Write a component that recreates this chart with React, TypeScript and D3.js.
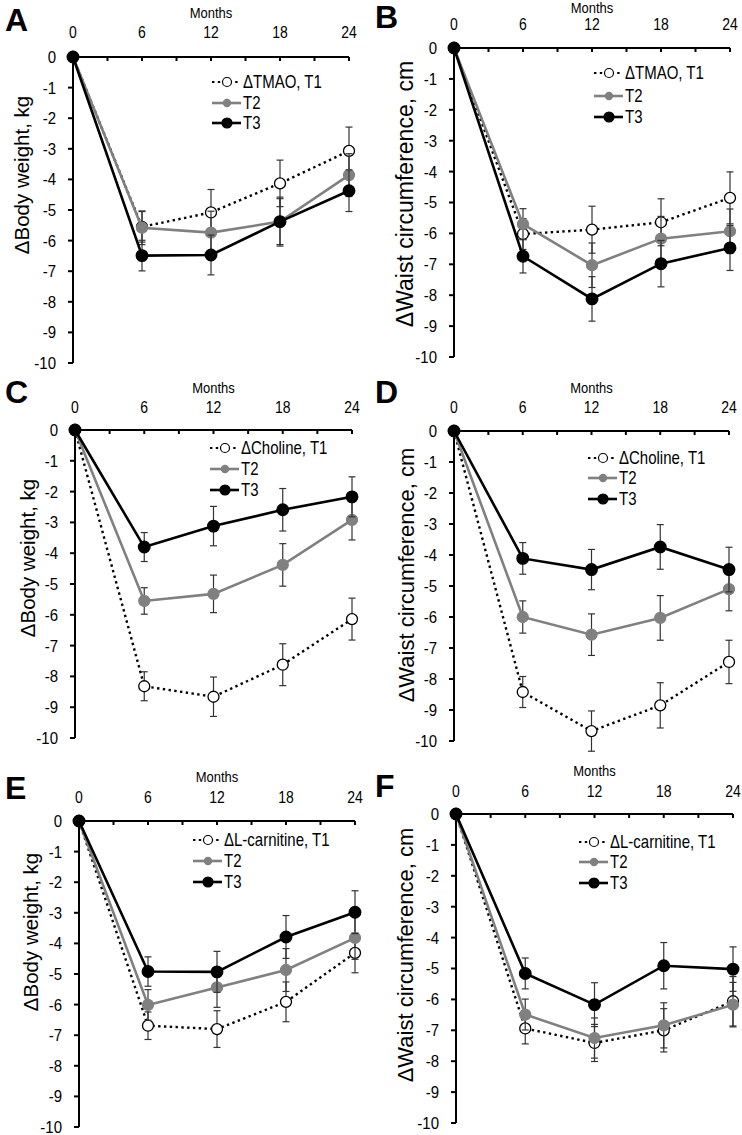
import React from "react";
import * as d3 from "d3";

const months = [0, 6, 12, 18, 24];
const xMinorTicks = [0, 3, 6, 9, 12, 15, 18, 21, 24];
const yTicks = [0, -1, -2, -3, -4, -5, -6, -7, -8, -9, -10];

// Panel A – ΔTMAO, body weight
const A_T1 = [0, -5.55, -5.08, -4.13, -3.07];
const A_T1_err = [0, 0.5, 0.75, 0.76, 0.78];
const A_T2 = [0, -5.58, -5.74, -5.38, -3.86];
const A_T2_err = [0, 0.55, 0.7, 0.75, 0.7];
const A_T3 = [0, -6.49, -6.47, -5.38, -4.37];
const A_T3_err = [0, 0.5, 0.65, 0.8, 0.68];

// Panel B – ΔTMAO, waist
const B_T1 = [0, -6.02, -5.88, -5.64, -4.85];
const B_T1_err = [0, 0.5, 0.76, 0.76, 0.84];
const B_T2 = [0, -5.7, -7.03, -6.17, -5.93];
const B_T2_err = [0, 0.5, 0.72, 0.72, 0.72];
const B_T3 = [0, -6.74, -8.12, -6.98, -6.47];
const B_T3_err = [0, 0.54, 0.72, 0.75, 0.73];

// Panel C – ΔCholine, body weight
const C_T1 = [0, -8.32, -8.66, -7.62, -6.14];
const C_T1_err = [0, 0.47, 0.64, 0.68, 0.68];
const C_T2 = [0, -5.55, -5.32, -4.38, -2.92];
const C_T2_err = [0, 0.43, 0.61, 0.69, 0.65];
const C_T3 = [0, -3.8, -3.12, -2.59, -2.17];
const C_T3_err = [0, 0.47, 0.64, 0.69, 0.65];

// Panel D – ΔCholine, waist
const D_T1 = [0, -8.42, -9.68, -8.85, -7.45];
const D_T1_err = [0, 0.5, 0.65, 0.73, 0.7];
const D_T2 = [0, -6.0, -6.57, -6.03, -5.1];
const D_T2_err = [0, 0.52, 0.67, 0.72, 0.7];
const D_T3 = [0, -4.11, -4.47, -3.74, -4.47];
const D_T3_err = [0, 0.51, 0.65, 0.72, 0.72];

// Panel E – ΔL-carnitine, body weight
const E_T1 = [0, -6.69, -6.8, -5.91, -4.31];
const E_T1_err = [0, 0.45, 0.6, 0.65, 0.65];
const E_T2 = [0, -6.01, -5.44, -4.87, -3.82];
const E_T2_err = [0, 0.5, 0.65, 0.7, 0.7];
const E_T3 = [0, -4.92, -4.93, -3.79, -2.98];
const E_T3_err = [0, 0.48, 0.67, 0.7, 0.7];

// Panel F – ΔL-carnitine, waist
const F_T1 = [0, -6.94, -7.41, -7.0, -6.06];
const F_T1_err = [0, 0.5, 0.6, 0.7, 0.8];
const F_T2 = [0, -6.49, -7.25, -6.84, -6.17];
const F_T2_err = [0, 0.5, 0.65, 0.73, 0.72];
const F_T3 = [0, -5.16, -6.17, -4.91, -5.02];
const F_T3_err = [0, 0.5, 0.71, 0.75, 0.72];

const legendNames = ["ΔTMAO, T1", "ΔCholine, T1", "ΔL-carnitine, T1"];
const seriesNames = ["T1", "T2", "T3"];
const bodyTitle = "ΔBody weight, kg";
const waistTitle = "ΔWaist circumference, cm";

const FONT = "'Liberation Sans', Arial, sans-serif";
const GRAY = "#808080";
const SY = 1.18;

const panels = [
  { letter: "A", lx: 5, ly: 31, x0: 73, x1: 349, y0: 57, y1: 363, monthsY: 18, tickY: 38, title: bodyTitle, tSize: 20.5, tX: 29, tY: 175, legend: legendNames[0], legX: 212, legY: [82, 103, 123], s: [[A_T1, A_T1_err], [A_T2, A_T2_err], [A_T3, A_T3_err]] },
  { letter: "B", lx: 375, ly: 28, x0: 454, x1: 730, y0: 48, y1: 357, monthsY: 12.5, tickY: 30, title: waistTitle, tSize: 23, tX: 413, tY: 194, legend: legendNames[0], legX: 594, legY: [73, 96, 117], s: [[B_T1, B_T1_err], [B_T2, B_T2_err], [B_T3, B_T3_err]] },
  { letter: "C", lx: 5, ly: 403, x0: 75, x1: 352, y0: 430, y1: 738, monthsY: 393, tickY: 413, title: bodyTitle, tSize: 20.5, tX: 35, tY: 558, legend: legendNames[1], legX: 210, legY: [448, 469, 490], s: [[C_T1, C_T1_err], [C_T2, C_T2_err], [C_T3, C_T3_err]] },
  { letter: "D", lx: 375, ly: 403, x0: 454, x1: 729, y0: 431, y1: 741, monthsY: 393, tickY: 413, title: waistTitle, tSize: 22, tX: 414, tY: 575, legend: legendNames[1], legX: 588, legY: [458, 478, 499], s: [[D_T1, D_T1_err], [D_T2, D_T2_err], [D_T3, D_T3_err]] },
  { letter: "E", lx: 5, ly: 799, x0: 79, x1: 355, y0: 821, y1: 1127, monthsY: 782, tickY: 803, title: bodyTitle, tSize: 20.5, tX: 38, tY: 932, legend: legendNames[2], legX: 193, legY: [840, 861, 882], s: [[E_T1, E_T1_err], [E_T2, E_T2_err], [E_T3, E_T3_err]] },
  { letter: "F", lx: 375, ly: 797, x0: 456, x1: 733, y0: 814, y1: 1123, monthsY: 776, tickY: 797, title: waistTitle, tSize: 22, tX: 413, tY: 955, legend: legendNames[2], legX: 579, legY: [842, 862, 883], s: [[F_T1, F_T1_err], [F_T2, F_T2_err], [F_T3, F_T3_err]] },
];

const styles = [
  { stroke: "#000", width: 2.4, dash: "2.4,3.4", fill: "#fff", r: 5.5, mStroke: "#000", legR: 4.5 },
  { stroke: GRAY, width: 2.6, dash: null, fill: GRAY, r: 5.5, mStroke: GRAY, legR: 3.6 },
  { stroke: "#000", width: 2.6, dash: null, fill: "#000", r: 5.8, mStroke: "#000", legR: 5 },
];

function SText({ x, y, size, anchor, children, center, sy }: any) {
  return (
    <text
      transform={`translate(${x},${y}) scale(1,${sy || SY})`}
      dy={center ? "0.36em" : undefined}
      fontFamily={FONT}
      fontSize={size}
      textAnchor={anchor}
    >
      {children}
    </text>
  );
}

function Panel({ p }) {
  const x = d3.scaleLinear().domain([0, 24]).range([p.x0, p.x1]);
  const y = d3.scaleLinear().domain([0, -10]).range([p.y0, p.y1]);
  const line = d3.line<number>().x((_, i) => x(months[i])).y((d) => y(d));
  return (
    <g>
      <text x={p.lx} y={p.ly} fontFamily={FONT} fontWeight="bold" fontSize={32}>{p.letter}</text>
      <SText x={(p.x0 + p.x1) / 2} y={p.monthsY} size={13} anchor="middle" sy={1.1}>Months</SText>
      {months.map((m) => (
        <SText key={m} x={x(m)} y={p.tickY} size={14} anchor="middle">{m}</SText>
      ))}
      {yTicks.map((t) => (
        <SText key={t} x={p.x0 - 17} y={y(t)} size={15} anchor="end" center sy={1.1}>{t}</SText>
      ))}
      <text transform={`translate(${p.tX},${p.tY}) rotate(-90)`} fontFamily={FONT} fontSize={p.tSize} textAnchor="middle">{p.title}</text>
      {/* axes */}
      <line x1={p.x0} x2={p.x1} y1={p.y0} y2={p.y0} stroke="#000" strokeWidth={2} />
      <line x1={p.x0} x2={p.x0} y1={p.y0} y2={p.y1} stroke="#000" strokeWidth={2} />
      {xMinorTicks.map((m) => (
        <line key={m} x1={x(m)} x2={x(m)} y1={p.y0} y2={p.y0 + 4} stroke="#000" strokeWidth={2} />
      ))}
      {yTicks.map((t) => (
        <line key={t} x1={p.x0 - 5} x2={p.x0} y1={y(t)} y2={y(t)} stroke="#000" strokeWidth={2} />
      ))}
      {/* series */}
      {p.s.map(([vals, errs], si) => {
        const st = styles[si];
        return (
          <g key={si}>
            <path d={line(vals) || ""} fill="none" stroke={st.stroke} strokeWidth={st.width} strokeDasharray={st.dash || undefined} />
            {vals.map((v, i) =>
              errs[i] > 0 ? (
                <g key={i} stroke="#333" strokeWidth={1.2}>
                  <line x1={x(months[i])} x2={x(months[i])} y1={y(v + errs[i])} y2={y(v - errs[i])} />
                  <line x1={x(months[i]) - 3.5} x2={x(months[i]) + 3.5} y1={y(v + errs[i])} y2={y(v + errs[i])} />
                  <line x1={x(months[i]) - 3.5} x2={x(months[i]) + 3.5} y1={y(v - errs[i])} y2={y(v - errs[i])} />
                </g>
              ) : null
            )}
            {vals.map((v, i) => (
              <circle key={i} cx={x(months[i])} cy={y(v)} r={st.r} fill={st.fill} stroke={st.mStroke} strokeWidth={1.3} />
            ))}
          </g>
        );
      })}
      {/* legend */}
      {styles.map((st, si) => (
        <g key={si}>
          <line x1={p.legX} x2={p.legX + 29} y1={p.legY[si]} y2={p.legY[si]} stroke={st.stroke} strokeWidth={si === 0 ? 2 : 2.6} strokeDasharray={st.dash || undefined} />
          <circle cx={p.legX + 15} cy={p.legY[si]} r={st.legR} fill={st.fill} stroke={st.mStroke} strokeWidth={1.2} />
          <SText x={p.legX + 31} y={p.legY[si]} size={15} anchor="start" center>{si === 0 ? p.legend : seriesNames[si]}</SText>
        </g>
      ))}
    </g>
  );
}

export default function App() {
  return (
    <svg width={742} height={1135} style={{ position: "absolute", left: 0, top: 0, background: "#fff" }}>
      <rect width={742} height={1135} fill="#fff" />
      {panels.map((p) => (
        <Panel key={p.letter} p={p} />
      ))}
    </svg>
  );
}
